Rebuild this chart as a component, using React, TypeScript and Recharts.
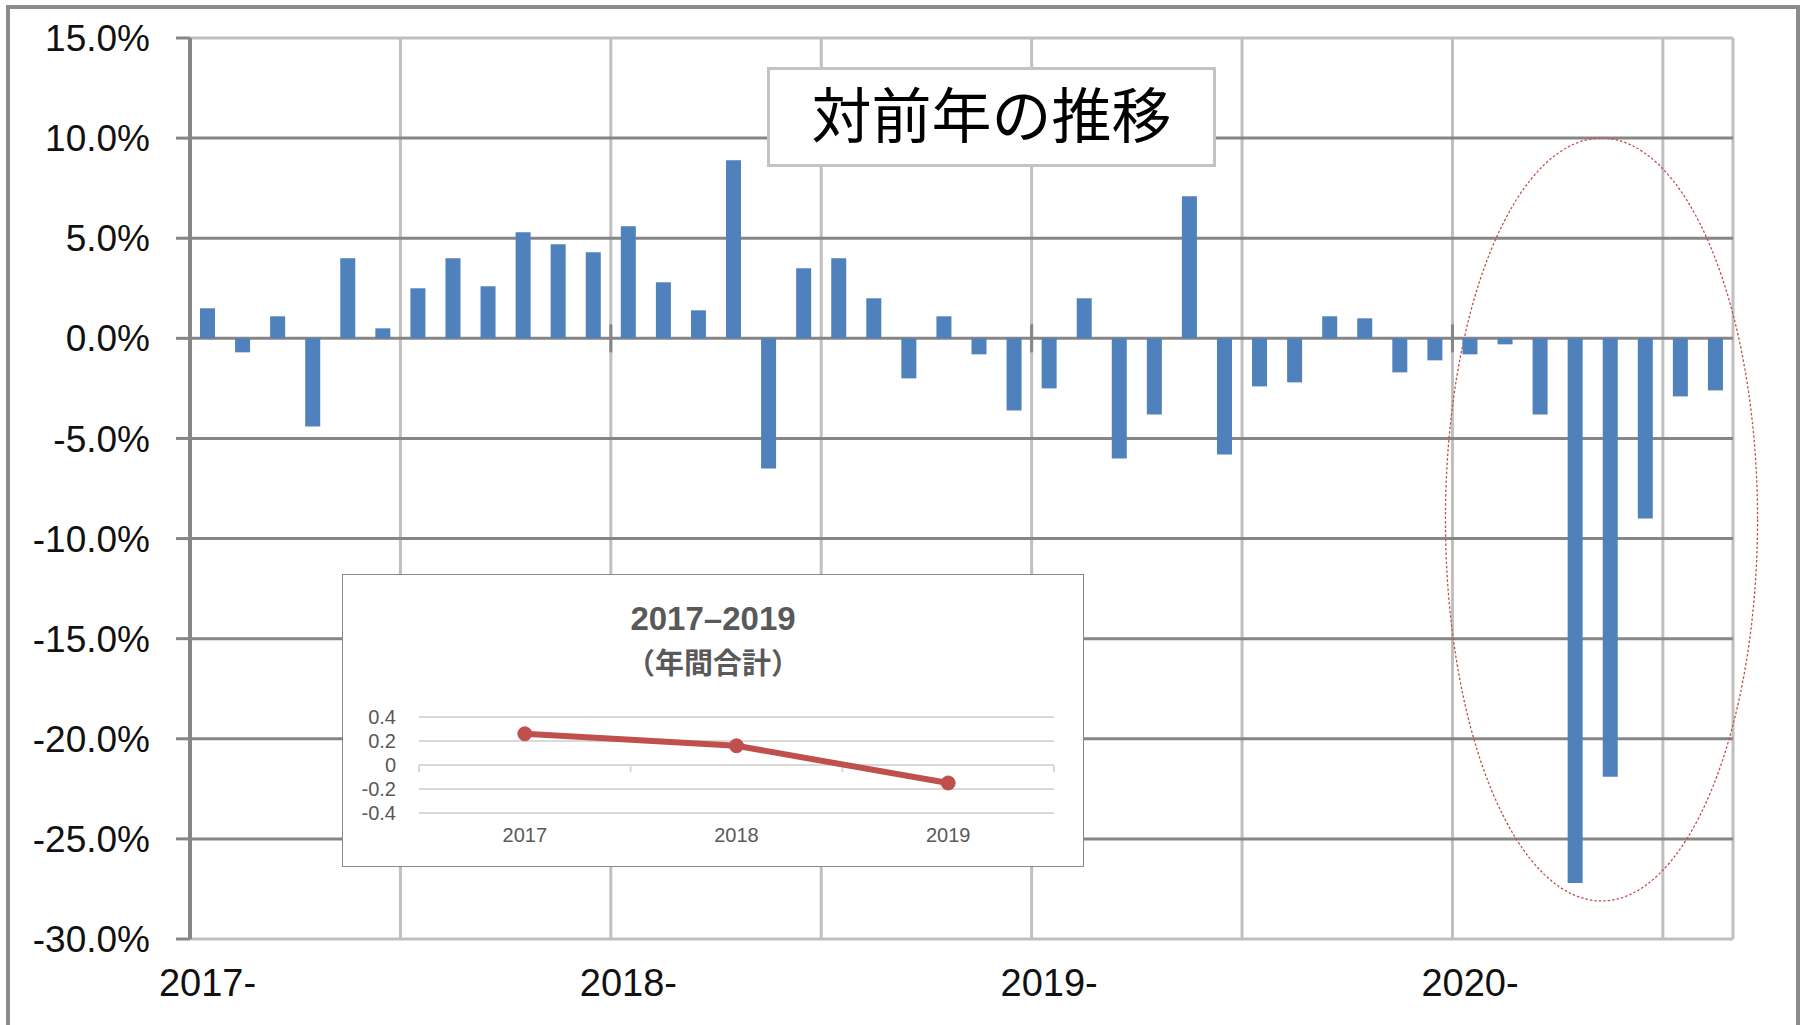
import React from 'react'
import {
  BarChart, Bar, XAxis, YAxis, CartesianGrid, ReferenceLine, ReferenceArea,
  LineChart, Line,
} from 'recharts'

// 対前年 monthly change in %, Jan 2017 .. Aug 2020
const months = [
  '2017-01', '2017-02', '2017-03', '2017-04', '2017-05', '2017-06',
  '2017-07', '2017-08', '2017-09', '2017-10', '2017-11', '2017-12',
  '2018-01', '2018-02', '2018-03', '2018-04', '2018-05', '2018-06',
  '2018-07', '2018-08', '2018-09', '2018-10', '2018-11', '2018-12',
  '2019-01', '2019-02', '2019-03', '2019-04', '2019-05', '2019-06',
  '2019-07', '2019-08', '2019-09', '2019-10', '2019-11', '2019-12',
  '2020-01', '2020-02', '2020-03', '2020-04', '2020-05', '2020-06',
  '2020-07', '2020-08',
]
const yoyValues = [
  1.5, -0.7, 1.1, -4.4, 4.0, 0.5, 2.5, 4.0, 2.6, 5.3, 4.7, 4.3,
  5.6, 2.8, 1.4, 8.9, -6.5, 3.5, 4.0, 2.0, -2.0, 1.1, -0.8, -3.6,
  -2.5, 2.0, -6.0, -3.8, 7.1, -5.8, -2.4, -2.2, 1.1, 1.0, -1.7, -1.1,
  -0.8, -0.3, -3.8, -27.2, -21.9, -9.0, -2.9, -2.6,
]
const yearLabels = ['2017-', '2018-', '2019-', '2020-']
const yTicks = [15, 10, 5, 0, -5, -10, -15, -20, -25, -30]

// inset: 年間合計
const insetYears = ['2017', '2018', '2019']
const insetValues = [0.26, 0.16, -0.15]
const insetTicks = [0.4, 0.2, 0, -0.2, -0.4]

// dotted circle around the 2020 drop (in chart units)
const highlight = { x1: 35.8, x2: 44.7, y1: -28.1, y2: 10 }

const rows = months.map((m, i) => ({ month: m, x: i + 0.5, v: yoyValues[i] }))
const januaries = months.map((m, i) => (m.endsWith('-01') ? i : -1)).filter(i => i >= 0)
const halfYears = months.map((m, i) => (m.endsWith('-01') || m.endsWith('-07') ? i : -1)).filter(i => i >= 0)
const gridX = [...halfYears, months.length]
const yearTickX = januaries.map(i => i + 0.5)

const insetRows = insetYears.map((y, i) => ({ year: y, x: i + 0.5, v: insetValues[i] }))

const FONT = '"Liberation Sans", Arial, sans-serif'
const CJK = '"Noto Sans CJK JP", "Noto Sans", sans-serif'
const DARK = '#868686'
const LIGHT = '#bfbfbf'

function Inset() {
  return (
    <div style={{
      position: 'absolute', left: 342, top: 574, width: 742, height: 293,
      boxSizing: 'border-box', border: '1.5px solid #898989', background: '#fff',
    }}>
      <div style={{
        position: 'absolute', left: 0, width: '100%', top: 27, textAlign: 'center',
        fontFamily: FONT, fontWeight: 'bold', fontSize: 33, lineHeight: '33px', color: '#595959',
      }}>2017–2019</div>
      <div style={{
        position: 'absolute', left: 0, width: '100%', top: 72, textAlign: 'center',
        fontFamily: CJK, fontWeight: 'bold', fontSize: 29, lineHeight: '29px', color: '#595959',
      }}>（年間合計）</div>
      <div style={{ position: 'absolute', left: 0, top: 0 }}>
        <LineChart width={739} height={290} data={insetRows}
          margin={{ top: 142, right: 28, bottom: 0, left: 0 }}>
          <CartesianGrid vertical={false} horizontalValues={insetTicks} stroke="#d9d9d9" strokeWidth={2} />
          <XAxis type="number" dataKey="x" domain={[0, insetYears.length]} ticks={insetRows.map(r => r.x)}
            tickFormatter={(v: number) => insetYears[Math.floor(v)]} interval={0}
            axisLine={false} tickLine={false} tickSize={0} tickMargin={15} height={52}
            tick={{ fontSize: 20, fill: '#595959', fontFamily: FONT }} />
          <YAxis domain={[-0.4, 0.4]} ticks={insetTicks} interval={0} width={76}
            axisLine={false} tickLine={false} tickSize={0} tickMargin={23}
            tick={{ fontSize: 20, fill: '#595959', fontFamily: FONT }} />
          {insetYears.map((_, i) => i).concat([insetYears.length]).map(b => (
            <ReferenceLine key={b} segment={[{ x: b, y: 0 }, { x: b, y: -0.06 }]}
              stroke="#d9d9d9" strokeWidth={2} ifOverflow="visible" />
          ))}
          <Line dataKey="v" stroke="#c0504d" strokeWidth={6}
            dot={{ r: 7, fill: '#c0504d', stroke: '#c0504d', strokeWidth: 1 }}
            isAnimationActive={false} />
        </LineChart>
      </div>
    </div>
  )
}

export default function App() {
  return (
    <div style={{ position: 'relative', width: 1802, height: 1025, overflow: 'hidden', background: '#fff' }}>
      <style>{'body{margin:0}'}</style>
      <div style={{
        position: 'absolute', left: 6, top: 5, width: 1794, height: 1060,
        boxSizing: 'border-box', border: '4px solid #8c8c8c',
      }} />
      <div style={{ position: 'absolute', left: 0, top: 0 }}>
        <BarChart width={1802} height={1025} data={rows}
          margin={{ top: 38, right: 69, bottom: 0, left: 0 }}>
          <CartesianGrid horizontal={false} verticalValues={gridX} stroke={LIGHT} strokeWidth={3} />
          <CartesianGrid vertical={false} horizontalValues={yTicks.slice(1, -1)} stroke={DARK} strokeWidth={3} />
          <CartesianGrid vertical={false} horizontalValues={[yTicks[0], yTicks[yTicks.length - 1]]} stroke={LIGHT} strokeWidth={3} />
          <XAxis type="number" dataKey="x" domain={[0, months.length]} ticks={yearTickX} interval={0}
            tickFormatter={(v: number) => yearLabels[yearTickX.indexOf(v)]}
            axisLine={false} tickLine={false} tickSize={0} tickMargin={30} height={86}
            tick={{ fontSize: 38, fill: '#111', fontFamily: FONT }} />
          <YAxis domain={[-30, 15]} ticks={yTicks} interval={0} width={190}
            tickFormatter={(v: number) => `${v.toFixed(1)}%`}
            axisLine={{ stroke: DARK, strokeWidth: 4 }} tickLine={{ stroke: DARK, strokeWidth: 3 }}
            tickSize={14} tickMargin={26}
            tick={{ fontSize: 37, fill: '#111', fontFamily: FONT }} />
          {januaries.filter(i => i > 0).map(i => (
            <ReferenceLine key={i} segment={[{ x: i, y: -0.7 }, { x: i, y: 0.7 }]}
              stroke={DARK} strokeWidth={3} />
          ))}
          <Bar dataKey="v" fill="#4f81bd" barSize={15} isAnimationActive={false} />
          <ReferenceArea x1={highlight.x1} x2={highlight.x2} y1={highlight.y1} y2={highlight.y2}
            ifOverflow="visible"
            shape={(p: any) => (
              <ellipse cx={p.x + p.width / 2} cy={p.y + p.height / 2} rx={Math.abs(p.width) / 2} ry={Math.abs(p.height) / 2}
                fill="none" stroke="#c0504d" strokeWidth={1.3} strokeDasharray="2.5 2" />
            )} />
        </BarChart>
      </div>
      <div style={{
        position: 'absolute', left: 767, top: 67, width: 449, height: 100,
        boxSizing: 'border-box', border: '3px solid #c3c3c3', background: '#fff',
      }}>
        <div style={{
          position: 'absolute', left: 0, width: '100%', top: 12, textAlign: 'center',
          fontFamily: CJK, fontSize: 60, lineHeight: '60px', color: '#000',
        }}>対前年の推移</div>
      </div>
      <Inset />
    </div>
  )
}
